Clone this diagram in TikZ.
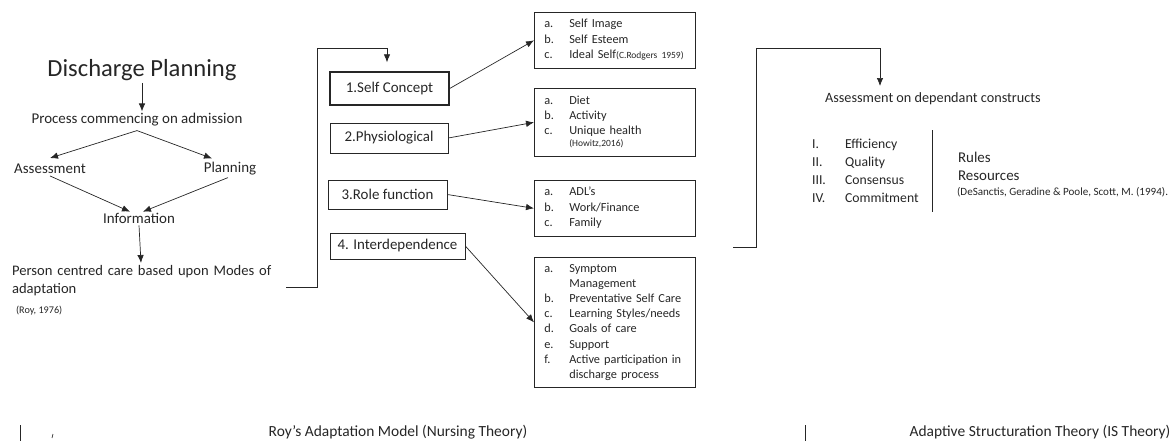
\documentclass[tikz,border=0pt]{standalone}
\usepackage{fontspec}
\setmainfont{Carlito}
\usetikzlibrary{arrows.meta, positioning, calc}
\definecolor{ink}{HTML}{262626}
\tikzset{
    flow/.style={draw=ink, -{Latex[length=1.6mm,width=1.3mm]}},
    wire/.style={draw=ink},
    modebox/.style={draw=ink, rectangle, inner sep=0pt, text=ink,
        font=\fontsize{8.5}{10}\selectfont},
    listbox/.style={draw=ink, rectangle, anchor=north west, text=ink,
        text width=2.82cm, inner xsep=0.2cm, inner ysep=0pt,
        font=\fontsize{7}{8.8}\selectfont},
    plaintext/.style={text=ink, inner sep=1pt, font=\fontsize{8.5}{10}\selectfont},
    smallcite/.style={text=ink, inner sep=1pt, font=\fontsize{5.8}{6.5}\selectfont},
}

\begin{document}
\begin{tikzpicture}[x=0.02cm, y=-0.02cm]

        \useasboundingbox (0,0) rectangle (1170,443);

        % DISCHARGE PLANNING FLOW
        \node[plaintext, font=\fontsize{14}{16}\selectfont] (title) at (142,70) {Discharge Planning};
        \node[plaintext] (process)    at (137,120) {Process commencing on admission};
        \node[plaintext] (assessment) at (50,169)  {Assessment};
        \node[plaintext] (planning)   at (230,169) {Planning};
        \node[plaintext] (information) at (139,218) {Information};
        \node[plaintext, anchor=north west, align=left, text width=5.6cm,
              font=\fontsize{8.3}{10.2}\selectfont] (care) at (10,263)
            {Person centred care based upon Modes of adaptation};
        \node[smallcite, anchor=west] (roy) at (14,311) {(Roy, 1976)};

        \coordinate (split)   at ($(process.south)+(0,2)$);
        \coordinate (careout) at (286,287);

        \draw[flow] (title.south) -- (title.south |- process.north);
        \draw[flow] (split) -- ($(assessment.north)+(0,-4)$);
        \draw[flow] (split) -- ($(planning.north)+(-18,-2)$);
        \draw[flow] (assessment.south) -- ($(information.north)+(-9,1)$);
        \draw[flow] ($(planning.south)+(-2,0)$) -- ($(information.north)+(4,1)$);
        \draw[flow] (information.south) -- ($(care.north west)+(131,0)$);

        % MODES OF ADAPTATION
        \node[modebox, line width=0.8pt, minimum width=2.38cm, minimum height=0.66cm] (selfconcept)   at (389.5,88.5) {1.Self Concept};
        \node[modebox, minimum width=2.36cm, minimum height=0.6cm]  (physiological) at (389,138)    {2.Physiological};
        \node[modebox, minimum width=2.38cm, minimum height=0.58cm] (rolefunction)  at (387.5,194.5) {3.Role function};
        \node[modebox, minimum width=2.7cm,  minimum height=0.52cm] (interdep)      at (397.5,246)  {4. Interdependence};

        \draw[flow] (careout) -- ++(31,0) |- ($(selfconcept.north)+(-2.5,-23)$) -- ($(selfconcept.north)+(-2.5,-9)$);

        % DETAIL BOXES
        \node[listbox, minimum height=1.12cm] (selflist) at (534,12) {%
            \begin{tabular}{@{}p{0.5cm}@{}l@{}}
            a. & Self Image\\
            b. & Self Esteem\\
            c. & Ideal Self{\fontsize{5.4}{6}\selectfont(C.Rodgers 1959)}
            \end{tabular}};
        \node[listbox, minimum height=1.36cm] (physlist) at (534,88) {%
            \begin{tabular}{@{}p{0.5cm}@{}l@{}}
            a. & Diet\\
            b. & Activity\\
            c. & Unique health\\[-2pt]
               & {\fontsize{5.4}{6}\selectfont (Howitz,2016)}
            \end{tabular}};
        \node[listbox, minimum height=1.12cm] (rolelist) at (534,180) {%
            \begin{tabular}{@{}p{0.5cm}@{}l@{}}
            a. & ADL’s\\
            b. & Work/Finance\\
            c. & Family
            \end{tabular}};
        \node[listbox, minimum height=2.6cm, font=\fontsize{7}{8.6}\selectfont] (interlist) at (534,257) {%
            \begin{tabular}{@{}p{0.5cm}@{}l@{}}
            a. & Symptom\\
               & Management\\
            b. & Preventative Self Care\\
            c. & Learning Styles/needs\\
            d. & Goals of care\\
            e. & Support\\
            f. & Active participation in\\
               & discharge process
            \end{tabular}};

        \draw[flow] (selfconcept.east)   -- (selflist.west);
        \draw[flow] (physiological.east) -- (physlist.west);
        \draw[flow] (rolefunction.east)  -- (rolelist.west);
        \draw[flow] (interdep.east)      -- (interlist.west);

        % ADAPTIVE STRUCTURATION
        \node[plaintext, anchor=west, font=\fontsize{8.1}{10}\selectfont] (assess) at (823,99) {Assessment on dependant constructs};
        \coordinate (astin)   at (733,247);
        \coordinate (assesstop) at (880,86);
        \draw[flow] (astin) -- ++(23,0) |- ($(assesstop)+(0,-38)$) -- (assesstop);

        \node[plaintext, anchor=west, font=\fontsize{7.8}{10.2}\selectfont] (constructs) at (810,172) {%
            \begin{tabular}{@{}p{0.66cm}@{}l@{}}
            I.   & Efficiency\\
            II.  & Quality\\
            III. & Consensus\\
            IV.  & Commitment
            \end{tabular}};
        \coordinate (divtop) at (932,130);
        \coordinate (divbot) at (932,212);
        \draw[wire] (divtop) -- (divbot);

        \node[plaintext, anchor=west] (rules)     at (956,157) {Rules};
        \node[plaintext, anchor=west] (resources) at (956,176) {Resources};
        \node[smallcite, anchor=west, font=\fontsize{6.3}{7}\selectfont] (desanctis) at (955,192)
            {(DeSanctis, Geradine \& Poole, Scott, M. (1994).};

        % CAPTIONS
        \node[plaintext, font=\fontsize{8.8}{10}\selectfont] (roycaption) at (398,432) {Roy’s Adaptation Model (Nursing Theory)};
        \node[plaintext, font=\fontsize{8.8}{10}\selectfont] (astcaption) at (1040,432) {Adaptive Structuration Theory (IS Theory)};
        \draw[wire] (20,425) -- (20,441);
        \draw[wire] (53,434) -- (52,438);
        \draw[wire] (805,425) -- (805,441);

    \end{tikzpicture}
\end{document}
